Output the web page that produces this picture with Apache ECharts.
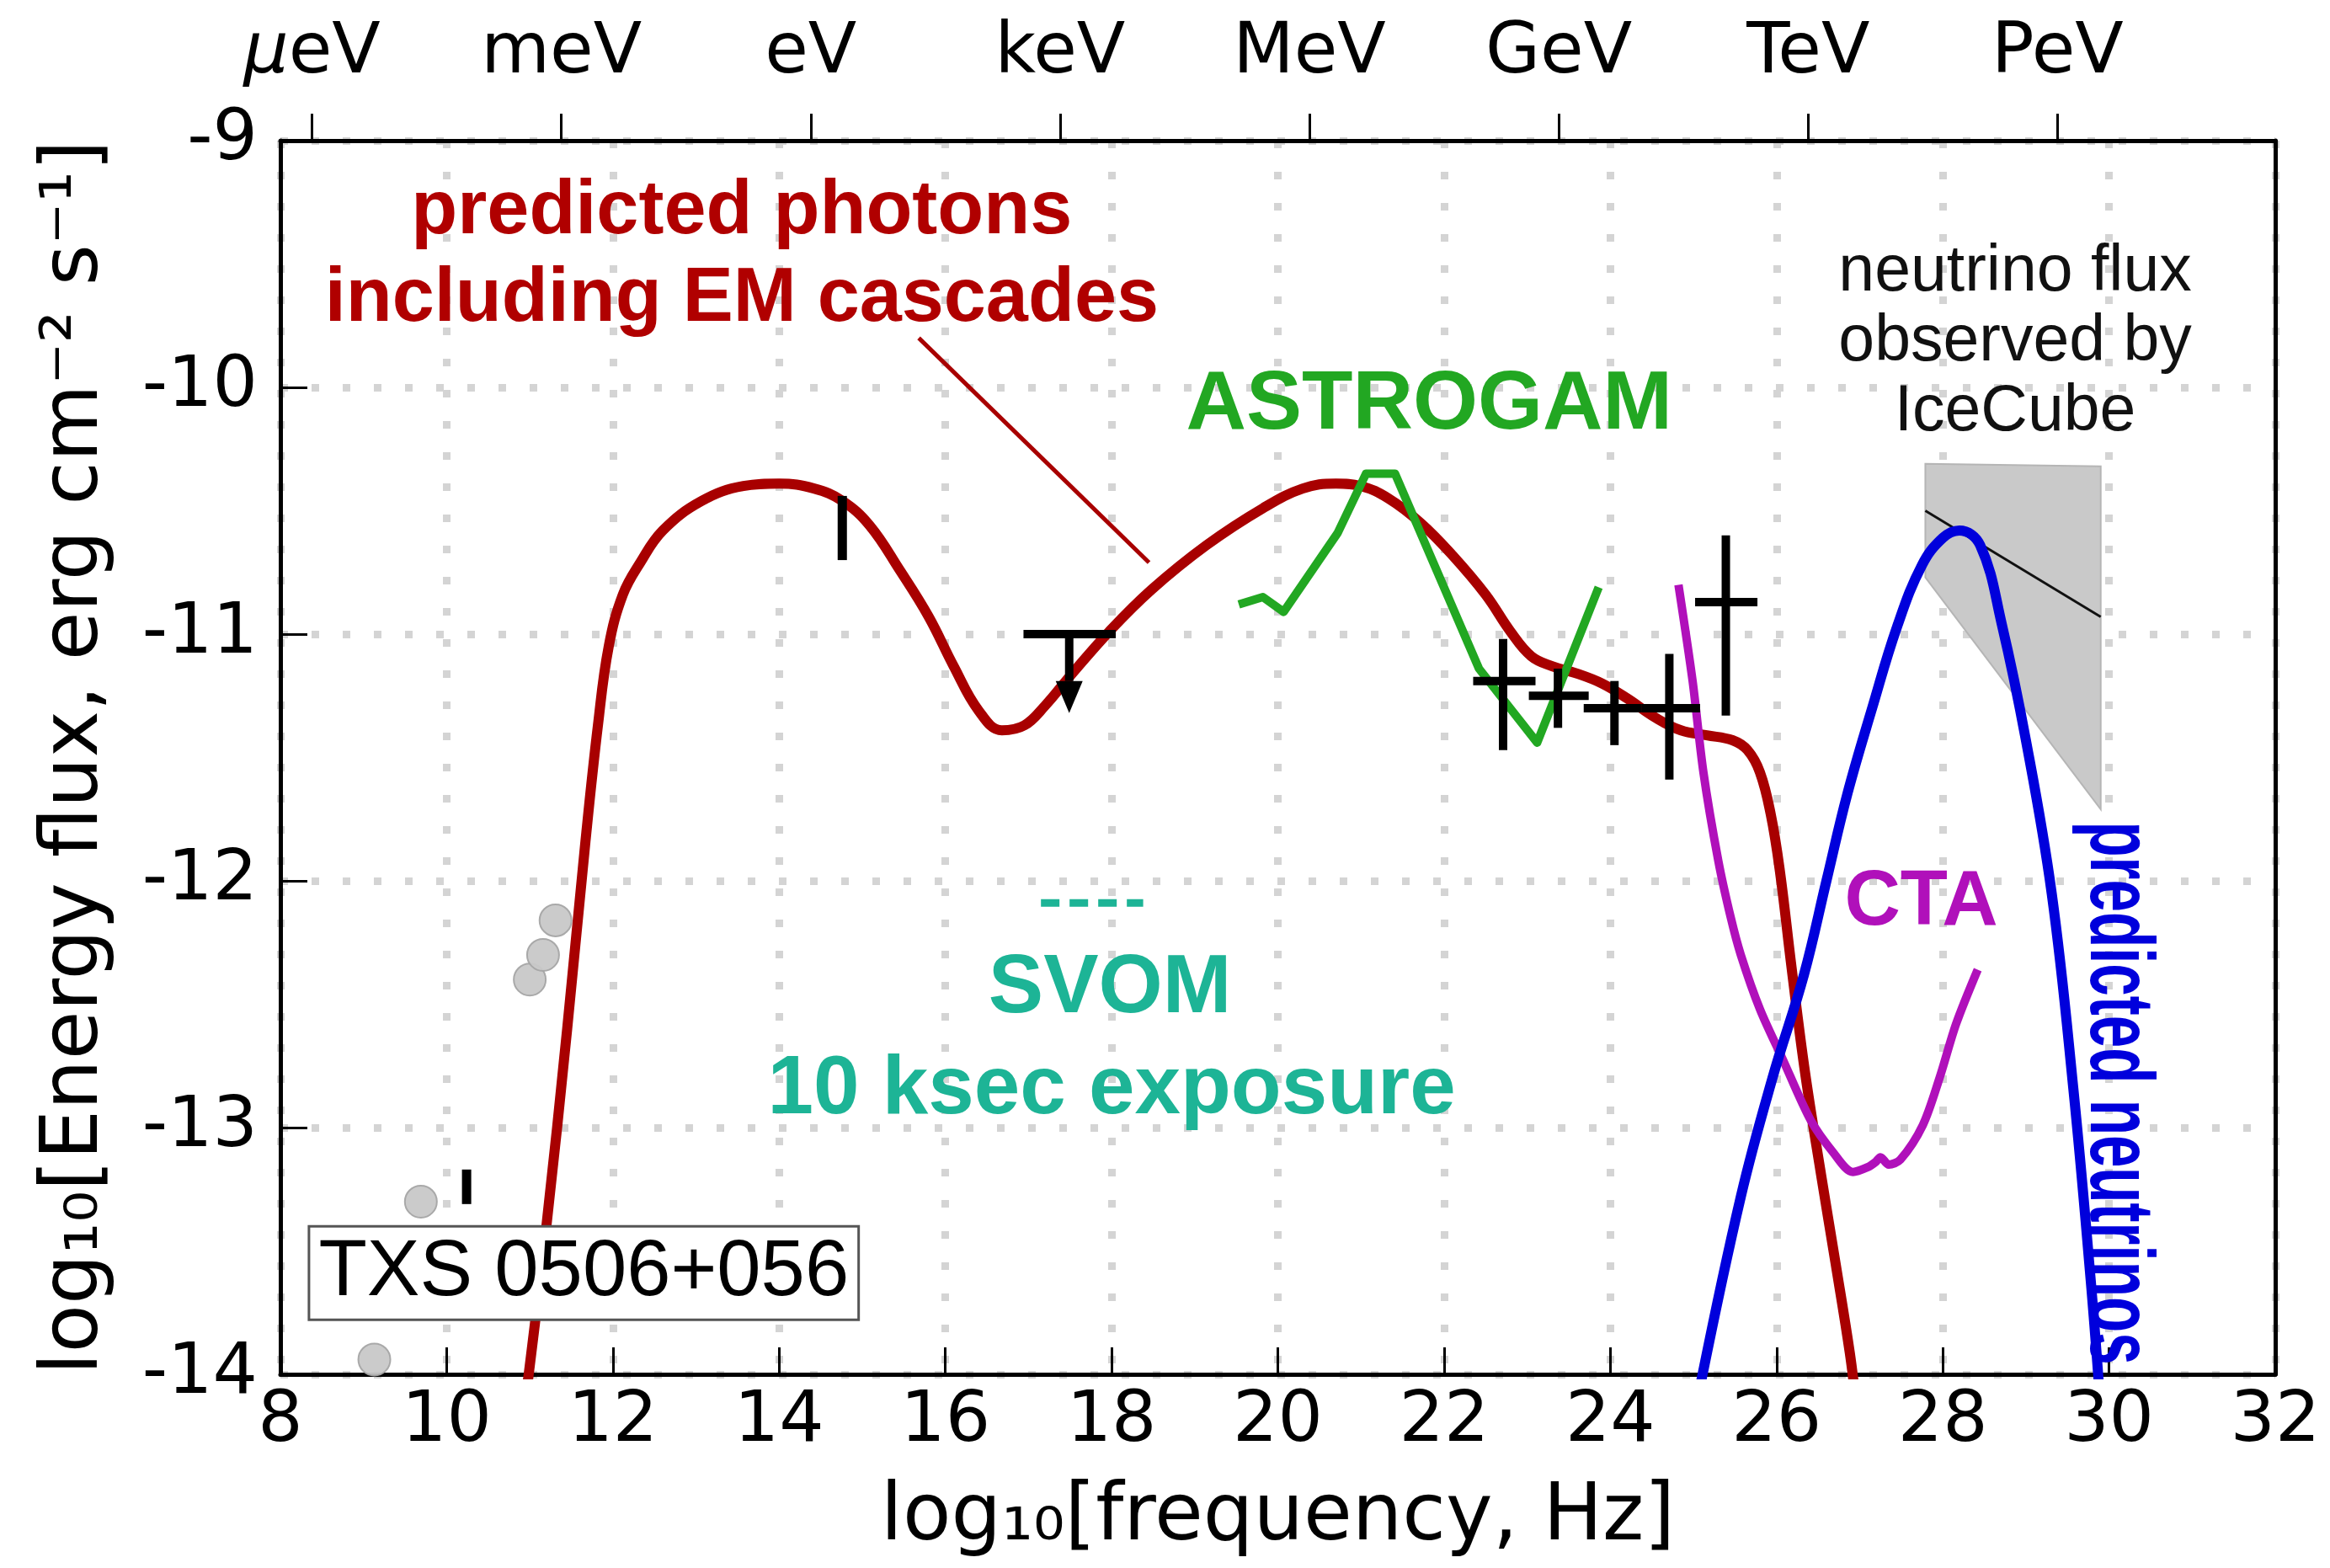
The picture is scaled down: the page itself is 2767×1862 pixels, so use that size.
<!DOCTYPE html>
<html><head><meta charset="utf-8">
<script src="https://cdn.jsdelivr.net/npm/echarts@6/dist/echarts.min.js"></script>
<style>html,body{margin:0;padding:0;background:#fff}#chart{width:2767px;height:1862px}</style>
</head><body><div id="chart"></div>
<script>
// ---------- data (log10 frequency [Hz], log10 energy flux) ----------
const photonModel = [[10.95,-14.1],[11.20,-13.40],[11.45,-12.60],[11.67,-11.84],[11.82,-11.37],[11.95,-11.05],[12.12,-10.84],[12.33,-10.71],[12.60,-10.58],[13.07,-10.46],[13.57,-10.40],[14.0,-10.39],[14.42,-10.41],[14.76,-10.46],[15.09,-10.56],[15.45,-10.74],[15.8,-10.93],[16.1,-11.13],[16.4,-11.31],[16.68,-11.39],[16.95,-11.37],[17.2,-11.29],[17.5,-11.17],[17.97,-10.99],[18.48,-10.82],[19.14,-10.64],[19.82,-10.49],[20.3,-10.41],[20.7,-10.39],[21.0,-10.40],[21.33,-10.45],[21.72,-10.55],[22.10,-10.68],[22.50,-10.84],[22.80,-10.99],[23.05,-11.09],[23.3,-11.13],[23.6,-11.16],[23.9,-11.20],[24.2,-11.26],[24.55,-11.34],[24.85,-11.39],[25.16,-11.41],[25.47,-11.43],[25.65,-11.47],[25.80,-11.56],[25.93,-11.73],[26.04,-11.96],[26.18,-12.35],[26.34,-12.77],[26.54,-13.2],[26.71,-13.55],[26.88,-13.91],[26.95,-14.1]];
const astrogam = [[19.53,-10.88],[19.82,-10.85],[20.07,-10.91],[20.72,-10.59],[21.06,-10.35],[21.41,-10.35],[22.42,-11.14],[23.12,-11.44],[23.86,-10.81]];
const ctaSensitivity = [[24.82,-10.80],[24.99,-11.19],[25.12,-11.56],[25.30,-11.92],[25.45,-12.15],[25.57,-12.30],[25.80,-12.52],[26.07,-12.72],[26.41,-12.97],[26.68,-13.10],[26.92,-13.18],[27.10,-13.16],[27.19,-13.14],[27.25,-13.12],[27.35,-13.15],[27.49,-13.13],[27.76,-12.99],[27.96,-12.80],[28.16,-12.58],[28.42,-12.36]];
const neutrinoModel = [[25.08,-14.05],[25.57,-13.28],[25.95,-12.80],[26.33,-12.38],[26.60,-12.00],[26.85,-11.65],[27.15,-11.30],[27.45,-10.97],[27.75,-10.72],[28.00,-10.61],[28.20,-10.58],[28.45,-10.64],[28.71,-10.96],[29.00,-11.43],[29.31,-12.05],[29.57,-12.84],[29.78,-13.62],[29.88,-14.05]];
const icecubeBand = [[27.79,-10.31],[29.90,-10.32],[29.90,-11.71],[27.79,-10.77]];
const icecubeFit = [[27.79,-10.50],[29.90,-10.93]];
const archivalX = [9.13, 9.69, 11.00, 11.16, 11.31];
const archivalY = [-13.94, -13.30, -12.40, -12.30, -12.16];
const crossX = [22.71, 23.37, 24.05, 24.71, 25.39];
const crossY = [-11.19, -11.25, -11.30, -11.30, -10.87];
const crossXLo = [22.35, 23.02, 23.68, 24.38, 25.02];
const crossXHi = [23.10, 23.74, 24.38, 25.08, 25.77];
const crossYLo = [-11.47, -11.38, -11.45, -11.59, -11.33];
const crossYHi = [-11.02, -11.14, -11.19, -11.08, -10.60];
const barX = [14.76, 10.24];
const barYLo = [-10.70, -13.31];
const barYHi = [-10.44, -13.17];
const upperLimit = {x: 17.49, y: -11.0, xLo: 16.94, xHi: 18.05, tip: -11.32, headTop: -11.19};
const svomDash = [[17.15,-12.09],[18.38,-12.09]];
const pointerLine = [[15.68,-9.80],[18.45,-10.71]];
const energyTickPos = [8.38, 11.38, 14.38, 17.38, 20.38, 23.38, 26.38, 29.38];
const energyTickLabels = ['{it|μ}eV','meV','eV','keV','MeV','GeV','TeV','PeV'];
const xTitle = 'log₁₀[frequency, Hz]';
const yTitle = 'log₁₀[Energy flux, erg cm⁻² s⁻¹]';

// ---------- styling ----------
const AX = 'DejaVu Sans';
const AN = '"Liberation Sans", Arial, sans-serif';
const RED = '#a80000', GREEN = '#22a722', MAG = '#b010ba', BLUE = '#0000dc', TEAL = '#1db496';
const gridLine = {show: true, lineStyle: {color: '#d4d4d4', width: 9, type: [9, 28]}};

function note(text, pos, style, extra) {
  return Object.assign({
    type: 'scatter', symbolSize: 1, silent: true, z: 20,
    itemStyle: {color: 'rgba(0,0,0,0)', opacity: 1},
    data: [pos],
    label: Object.assign({show: true, position: 'inside', formatter: text, align: 'center', verticalAlign: 'middle',
      opacity: 1, textBorderWidth: 0, textBorderColor: 'rgba(0,0,0,0)', textShadowBlur: 0}, style)
  }, extra || {});
}

const chart = echarts.init(document.getElementById('chart'), null, {renderer: 'canvas'});
const option = {
  animation: false,
  backgroundColor: '#fff',
  grid: {left: 333, right: 65, top: 167, bottom: 230, containLabel: false},
  xAxis: [{
    type: 'value', position: 'bottom', min: 8, max: 32, interval: 2,
    axisLine: {onZero: false, lineStyle: {color: '#000', width: 5}},
    axisTick: {inside: true, length: 32, lineStyle: {color: '#000', width: 3}},
    axisLabel: {fontFamily: AX, fontSize: 84, color: '#000', margin: 15},
    splitLine: gridLine,
    name: xTitle, nameLocation: 'middle', nameGap: 125,
    nameTextStyle: {fontFamily: AX, fontSize: 94, color: '#000'}
  }, {
    type: 'value', position: 'top', min: 8, max: 32,
    axisLine: {onZero: false, lineStyle: {color: '#000', width: 5}},
    axisTick: {inside: false, length: 32, customValues: energyTickPos, lineStyle: {color: '#000', width: 3}},
    axisLabel: {
      customValues: energyTickPos, fontFamily: AX, fontSize: 84, color: '#000', margin: 61,
      formatter: v => { const i = energyTickPos.findIndex(t => Math.abs(t - v) < 1e-6); return i >= 0 ? energyTickLabels[i] : ''; },
      rich: {it: {fontFamily: AX, fontSize: 84, fontStyle: 'italic', color: '#000'}}
    },
    splitLine: {show: false}
  }],
  yAxis: [{
    type: 'value', position: 'left', min: -14, max: -9, interval: 1,
    axisLine: {onZero: false, lineStyle: {color: '#000', width: 5}},
    axisTick: {inside: true, length: 32, lineStyle: {color: '#000', width: 3}},
    axisLabel: {fontFamily: AX, fontSize: 84, color: '#000', margin: 27},
    splitLine: gridLine,
    name: yTitle, nameLocation: 'middle', nameGap: 195, nameRotate: 90,
    nameTextStyle: {fontFamily: AX, fontSize: 94, color: '#000'}
  }, {
    type: 'value', position: 'right', min: -14, max: -9,
    axisLine: {show: true, onZero: false, lineStyle: {color: '#000', width: 5}},
    axisTick: {show: false}, axisLabel: {show: false}, splitLine: {show: false}
  }],
  series: [
    // IceCube band
    {type: 'custom', clip: true, z: 2, silent: true, data: [[0]],
     renderItem: (params, api) => ({type: 'polygon', shape: {points: icecubeBand.map(p => api.coord(p))},
       style: {fill: '#c9c9c9', stroke: '#b5b5b5', lineWidth: 2}})},
    {type: 'line', data: icecubeFit, symbol: 'none', z: 3, silent: true,
     lineStyle: {color: '#111', width: 3}},
    // archival points
    {type: 'scatter', data: archivalX.map((x, i) => [x, archivalY[i]]), symbolSize: 38, z: 4, silent: true,
     itemStyle: {color: '#c8c8c8', borderColor: '#a5a5a5', borderWidth: 2, opacity: 0.95}},
    // photon model
    {type: 'line', data: photonModel, smooth: 0.4, symbol: 'none', z: 6, silent: true,
     lineStyle: {color: RED, width: 12, cap: 'round', join: 'round'}},
    // pointer
    {type: 'line', data: pointerLine, symbol: 'none', z: 6, silent: true, lineStyle: {color: RED, width: 5}},
    // ASTROGAM
    {type: 'line', data: astrogam, symbol: 'none', z: 7, silent: true, lineStyle: {color: GREEN, width: 10, join: 'round'}},
    // CTA
    {type: 'line', data: ctaSensitivity, smooth: 0.3, symbol: 'none', z: 7, silent: true, lineStyle: {color: MAG, width: 10, join: 'round'}},
    // neutrinos
    {type: 'line', data: neutrinoModel, smooth: 0.4, symbol: 'none', z: 8, silent: true, lineStyle: {color: BLUE, width: 12, join: 'round'}},
    // SVOM dashes
    {type: 'line', data: svomDash, symbol: 'none', z: 7, silent: true, lineStyle: {color: TEAL, width: 9, type: [22, 12]}},
    // error crosses
    {type: 'custom', clip: true, z: 9, silent: true,
     data: crossX.map((x, i) => [x, crossY[i], crossXLo[i], crossXHi[i], crossYLo[i], crossYHi[i]]),
     encode: {x: [0, 2, 3], y: [1, 4, 5]},
     renderItem: (params, api) => {
       const x = api.value(0), y = api.value(1);
       const a = api.coord([api.value(2), y]), b = api.coord([api.value(3), y]);
       const c = api.coord([x, api.value(4)]), d = api.coord([x, api.value(5)]);
       const st = {stroke: '#000', lineWidth: 10};
       return {type: 'group', children: [
         {type: 'line', shape: {x1: a[0], y1: a[1], x2: b[0], y2: b[1]}, style: st},
         {type: 'line', shape: {x1: c[0], y1: c[1], x2: d[0], y2: d[1]}, style: st}]};
     }},
    // vertical bars
    {type: 'custom', clip: true, z: 9, silent: true,
     data: barX.map((x, i) => [x, barYLo[i], barYHi[i]]),
     encode: {x: 0, y: [1, 2]},
     renderItem: (params, api) => {
       const c = api.coord([api.value(0), api.value(1)]), d = api.coord([api.value(0), api.value(2)]);
       return {type: 'line', shape: {x1: c[0], y1: c[1], x2: d[0], y2: d[1]}, style: {stroke: '#000', lineWidth: 11}};
     }},
    // upper limit
    {type: 'custom', clip: true, z: 9, silent: true, data: [[upperLimit.x, upperLimit.y]],
     renderItem: (params, api) => {
       const u = upperLimit;
       const a = api.coord([u.xLo, u.y]), b = api.coord([u.xHi, u.y]);
       const top = api.coord([u.x, u.y]), tip = api.coord([u.x, u.tip]), ht = api.coord([u.x, u.headTop]);
       const st = {stroke: '#000', lineWidth: 10};
       return {type: 'group', children: [
         {type: 'line', shape: {x1: a[0], y1: a[1], x2: b[0], y2: b[1]}, style: st},
         {type: 'line', shape: {x1: top[0], y1: top[1], x2: ht[0], y2: ht[1]}, style: st},
         {type: 'polygon', shape: {points: [[ht[0] - 16, ht[1]], [ht[0] + 16, ht[1]], [tip[0], tip[1]]]}, style: {fill: '#000'}}]};
     }},
    // annotations
    note('predicted photons', [13.55, -9.29], {fontFamily: AN, fontWeight: 'bold', fontSize: 90, color: '#b00000'}),
    note('including EM cascades', [13.55, -9.645], {fontFamily: AN, fontWeight: 'bold', fontSize: 90, color: '#b00000'}),
    note('ASTROGAM', [21.82, -10.075], {fontFamily: AN, fontWeight: 'bold', fontSize: 99, color: GREEN}),
    note('SVOM', [17.98, -12.44], {fontFamily: AN, fontWeight: 'bold', fontSize: 98, color: TEAL}),
    note('10 ksec exposure', [18.0, -12.85], {fontFamily: AN, fontWeight: 'bold', fontSize: 98, color: TEAL}),
    note('CTA', [27.74, -12.09], {fontFamily: AN, fontWeight: 'bold', fontSize: 92, color: MAG}),
    note('neutrino flux\nobserved by\nIceCube', [28.87, -9.82], {fontFamily: AN, fontSize: 77, lineHeight: 83, color: '#111'}),
    note('TXS 0506+056', [11.65, -13.59], {fontFamily: AN, fontSize: 94, color: '#000', backgroundColor: '#fff',
      borderColor: '#555', borderWidth: 3, padding: [8, 10, 6, 10]}, {z: 30})
  ]
};
chart.setOption(option);

// rotated, condensed label placed through the chart's own coordinate system
const neutrinoLabelAt = [30.08, -12.86];
const p = chart.convertToPixel({xAxisIndex: 0, yAxisIndex: 0}, neutrinoLabelAt);
chart.setOption({graphic: [{
  type: 'text', x: p[0], y: p[1], rotation: -Math.PI / 2, scaleX: 0.64, z: 100, silent: true,
  style: {text: 'predicted neutrinos', font: 'bold 108px "Liberation Sans", Arial, sans-serif', fill: BLUE,
          align: 'center', verticalAlign: 'middle'}
}]});
</script></body></html>
